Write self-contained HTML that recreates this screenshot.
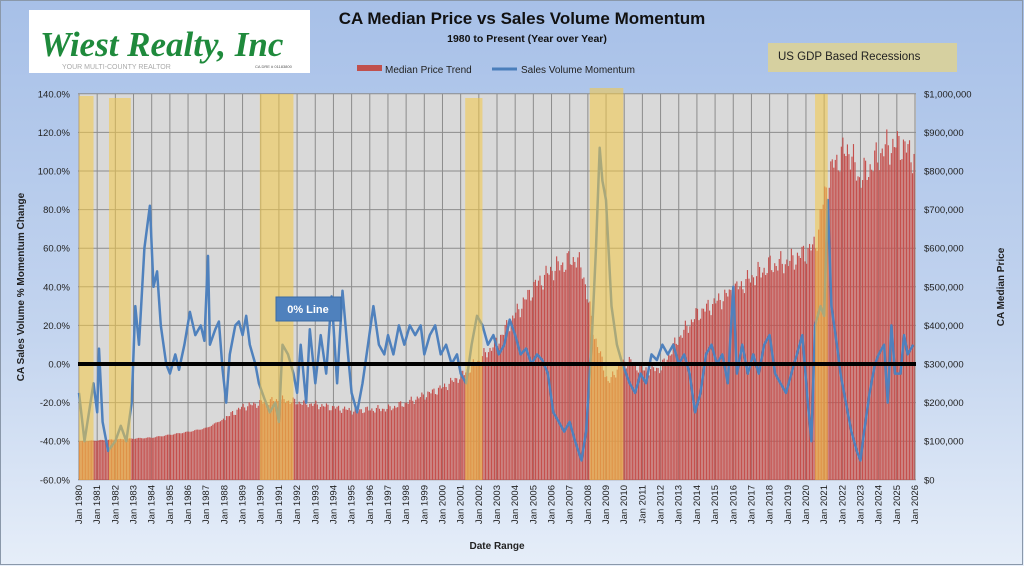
<!DOCTYPE html>
<html><head><meta charset="utf-8"><style>
html,body{margin:0;padding:0;width:1024px;height:566px;overflow:hidden;font-family:"Liberation Sans",sans-serif;}
</style></head><body>
<svg id="s" width="1024" height="566" xmlns="http://www.w3.org/2000/svg" style="display:block">
<defs><linearGradient id="bg" x1="0" y1="0" x2="0" y2="1"><stop offset="0" stop-color="#a7c0e8"/><stop offset="0.6" stop-color="#c4d5ef"/><stop offset="1" stop-color="#e6eef9"/></linearGradient></defs>
<rect x="0" y="0" width="1024" height="566" fill="url(#bg)"/>
<rect x="0.5" y="0.5" width="1022" height="564" fill="none" stroke="#8a98aa"/>
<rect x="29" y="10" width="281" height="63" fill="#fff"/>
<text x="40" y="56" font-family="Liberation Serif,serif" font-style="italic" font-weight="bold" font-size="35" fill="#1f8a3c">Wiest Realty, Inc</text>
<text x="62" y="69" font-size="7" fill="#aaa">YOUR MULTI-COUNTY REALTOR</text>
<text x="255" y="68" font-size="4" fill="#555">CA DRE # 01183800</text>
<text x="522" y="24" text-anchor="middle" font-weight="bold" font-size="17" fill="#111">CA Median Price vs Sales Volume Momentum</text>
<text x="527" y="42" text-anchor="middle" font-weight="bold" font-size="10.5" fill="#111">1980  to Present (Year over Year)</text>
<rect x="357" y="65" width="25" height="6" fill="#c0504d"/>
<text x="385" y="73" font-size="10" fill="#222">Median Price Trend</text>
<line x1="492" y1="69" x2="517" y2="69" stroke="#4a7ebb" stroke-width="3"/>
<text x="521" y="73" font-size="10" fill="#222">Sales Volume Momentum</text>
<rect x="768" y="43" width="189" height="29" fill="#d6d0a0"/>
<text x="778" y="60" font-size="11.5" fill="#222">US GDP Based Recessions</text>
<rect x="78" y="94" width="838" height="386" fill="#d9d9d9"/>
<g id="grid"></g>
<g id="bars"></g>
<polyline id="ln" fill="none" stroke="#4f81bd" stroke-width="2.5" stroke-linejoin="round"/>
<g id="rec"></g>
<line x1="78" y1="364" x2="916" y2="364" stroke="#000" stroke-width="4"/>
<g id="lbl" font-size="9.5" fill="#222"></g>
<text transform="translate(24,287) rotate(-90)" text-anchor="middle" font-weight="bold" font-size="10" fill="#222">CA Sales Volume % Momentum Change</text>
<text transform="translate(1004,287) rotate(-90)" text-anchor="middle" font-weight="bold" font-size="10" fill="#222">CA Median  Price</text>
<text x="497" y="549" text-anchor="middle" font-weight="bold" font-size="10" fill="#222">Date Range</text>
<rect x="276" y="297" width="65" height="24" fill="#4f81bd" stroke="#3a6aa5"/>
<text x="308" y="313" text-anchor="middle" font-weight="bold" font-size="11" fill="#fff">0% Line</text>
</svg>
<script>
var NS="http://www.w3.org/2000/svg";
function el(p,t,a,txt){var e=document.createElementNS(NS,t);for(var k in a)e.setAttribute(k,a[k]);if(txt)e.textContent=txt;document.getElementById(p).appendChild(e);return e;}
var X0=79,PX=(915-79)/46;function X(y){return X0+(y-1980)*PX;}
function Yp(v){return 364-v*1.93;}function Yd(v){return 480-v*0.386;}
for(var i=0;i<=46;i++){el('grid','line',{x1:X(1980+i),y1:94,x2:X(1980+i),y2:480,stroke:'#8c8c8c','stroke-width':1});
el('lbl','text',{transform:'translate('+(X(1980+i)+3)+',485) rotate(-90)','text-anchor':'end'},'Jan '+(1980+i));}
for(var v=-60;v<=140;v+=20){var y=Yp(v);el('grid','line',{x1:78,y1:y,x2:916,y2:y,stroke:'#8c8c8c','stroke-width':1});
el('lbl','text',{x:70,y:y+3.5,'text-anchor':'end'},v.toFixed(1)+'%');
var d=(v+60)*5000;el('lbl','text',{x:924,y:y+3.5},'$'+d.toLocaleString('en-US'));}
var P=[[1980,100],[1982,105],[1984,110],[1986,125],[1987,135],[1988,160],[1989,190],[1990,200],[1991,208],[1993,195],[1995,180],[1997,185],[1998,200],[1999,220],[2000,240],[2001,270],[2002,310],[2003,360],[2004,430],[2005,500],[2006,545],[2007.3,575],[2007.7,540],[2008.3,380],[2009.1,250],[2009.6,290],[2010.2,310],[2011,285],[2012,290],[2013,370],[2014,430],[2015,460],[2016,490],[2017,525],[2018,555],[2019,565],[2020,590],[2020.5,610],[2021,740],[2021.5,820],[2022.3,860],[2022.9,780],[2023.5,810],[2024.3,860],[2025.2,870],[2025.9,840]];
function interp(a,x){for(var i=0;i<a.length-1;i++){if(x<=a[i+1][0]){var t=(x-a[i][0])/(a[i+1][0]-a[i][0]);return a[i][1]+t*(a[i+1][1]-a[i][1]);}}return a[a.length-1][1];}
for(var m=0;m<552;m++){var yr=1980+m/12;var v=interp(P,yr)*1000;var n=1+0.035*Math.sin(m*1.7)+0.025*Math.sin(m*0.9);if(yr<1988)n=1+0.01*Math.sin(m);var h=v*n/1000;
el('bars','rect',{x:X(yr),y:Yd(h),width:1.15,height:480-Yd(h),fill:'#c5504d'});}
var R=[[1980.0,1980.8,96],[1981.65,1982.85,98],[1989.95,1991.8,94],[2001.25,2002.2,98],[2008.1,2009.95,88],[2020.5,2021.2,94]];
R.forEach(function(r){el('rec','rect',{x:X(r[0]),y:r[2],width:X(r[1])-X(r[0]),height:480-r[2],fill:'rgba(244,200,70,0.55)'});});
var L=[1980.0,-15,1980.3,-40,1980.8,-10,1981.0,-25,1981.1,8,1981.3,-30,1981.6,-45,1982.0,-40,1982.3,-32,1982.6,-40,1982.9,-20,1983.1,30,1983.3,10,1983.6,60,1983.9,82,1984.1,40,1984.3,48,1984.5,20,1984.8,0,1985.0,-5,1985.3,5,1985.5,-3,1985.8,10,1986.1,27,1986.4,15,1986.7,20,1986.9,12,1987.1,56,1987.2,10,1987.5,18,1987.7,22,1987.9,-3,1988.1,-20,1988.3,5,1988.6,20,1988.8,22,1989.0,15,1989.2,25,1989.4,10,1989.7,0,1989.9,-10,1990.2,-18,1990.5,-25,1990.8,-20,1991.0,-30,1991.2,10,1991.5,5,1991.8,-5,1992.0,-15,1992.2,10,1992.5,-20,1992.7,18,1993.0,-10,1993.3,15,1993.6,-5,1993.9,35,1994.2,-10,1994.5,38,1994.8,5,1995.0,-15,1995.3,-25,1995.6,-10,1995.9,10,1996.2,30,1996.5,10,1996.8,5,1997.0,15,1997.3,5,1997.6,20,1997.9,10,1998.2,20,1998.5,15,1998.8,20,1999.0,5,1999.3,15,1999.6,20,1999.9,5,2000.2,10,2000.5,0,2000.8,5,2001.0,-5,2001.3,-10,2001.6,10,2001.9,25,2002.2,20,2002.5,10,2002.8,15,2003.1,5,2003.4,10,2003.7,23,2004.0,15,2004.3,5,2004.6,8,2004.9,0,2005.2,5,2005.5,2,2005.8,-5,2006.1,-25,2006.4,-30,2006.7,-35,2007.0,-30,2007.3,-40,2007.65,-50,2007.9,-35,2008.2,10,2008.45,60,2008.65,112,2008.8,95,2009.0,85,2009.3,30,2009.6,10,2009.9,0,2010.3,-10,2010.6,-15,2010.9,-5,2011.2,-10,2011.5,5,2011.8,2,2012.1,10,2012.4,5,2012.7,10,2013.0,0,2013.3,5,2013.6,-5,2013.9,-25,2014.2,-15,2014.5,5,2014.8,10,2015.1,0,2015.4,5,2015.7,-10,2016.0,40,2016.2,-5,2016.5,10,2016.8,-5,2017.1,5,2017.4,-5,2017.7,10,2018.0,15,2018.3,-5,2018.6,-10,2018.9,-15,2019.2,-5,2019.5,5,2019.8,15,2020.1,-20,2020.3,-40,2020.5,20,2020.8,30,2021.0,25,2021.2,85,2021.4,30,2021.7,10,2021.9,-5,2022.2,-20,2022.5,-35,2022.8,-45,2023.0,-50,2023.2,-35,2023.5,-15,2023.8,0,2024.0,5,2024.3,10,2024.5,-20,2024.7,20,2024.9,-5,2025.2,-5,2025.4,15,2025.6,5,2025.9,10];
var pts=[];for(var i=0;i<L.length;i+=2)pts.push(X(L[i]).toFixed(1)+','+Yp(L[i+1]).toFixed(1));
document.getElementById('ln').setAttribute('points',pts.join(' '));
</script>
</body></html>
